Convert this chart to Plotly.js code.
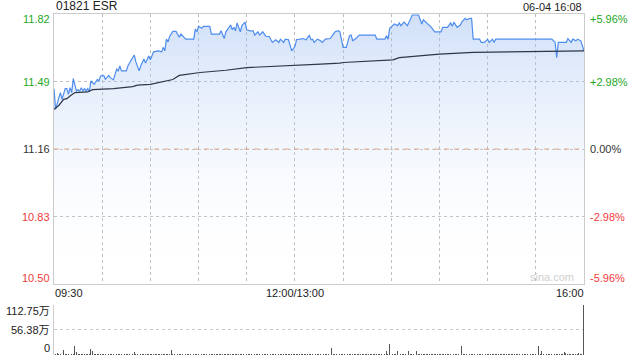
<!DOCTYPE html>
<html>
<head>
<meta charset="utf-8">
<script src="https://cdn.plot.ly/plotly-3.0.1.min.js"></script>
<style>html,body{margin:0;padding:0;background:#fff;}#chart{width:640px;height:360px;}</style>
</head>
<body>
<div id="chart"></div>
<script>
// ---- data ----
const chartTitle = "01821 ESR";
const stamp = "06-04 16:08";
const prevClose = 11.16;
const priceTicks = [11.82, 11.49, 11.16, 10.83, 10.50];
const priceTickText = ["11.82", "11.49", "11.16", "10.83", "10.50"];
const pctTickText = ["+5.96%", "+2.98%", "0.00%", "-2.98%", "-5.96%"];
const xTickTimes = ["09:30", "12:00", "16:00"];
const xTickText = ["09:30", "12:00/13:00", "16:00"];
const volTicks = [0, 56.38, 112.75];
const volTickText = ["0", "56.38万", "112.75万"];

const priceTimes = ["09:30","09:31","09:33","09:34","09:35","09:37","09:38","09:39","09:40","09:41","09:42","09:44","09:45","09:46","09:47","09:48","09:49","09:50","09:51","09:52","09:53","09:55","09:57","09:58","09:59","10:01","10:02","10:04","10:05","10:07","10:09","10:10","10:11","10:12","10:15","10:16","10:18","10:20","10:21","10:23","10:24","10:26","10:27","10:29","10:30","10:31","10:32","10:35","10:37","10:38","10:39","10:40","10:41","10:42","10:44","10:46","10:48","10:49","10:52","10:57","10:58","10:59","11:00","11:02","11:03","11:07","11:08","11:13","11:14","11:16","11:17","11:20","11:21","11:22","11:23","11:24","11:26","11:27","11:29","11:30","11:32","11:34","11:35","11:37","11:38","11:40","11:42","11:44","11:46","11:48","11:50","11:51","11:53","11:54","11:56","11:58","12:00","13:01","13:04","13:05","13:07","13:09","13:10","13:11","13:12","13:14","13:16","13:17","13:19","13:22","13:25","13:27","13:28","13:30","13:32","13:34","13:35","13:36","13:38","13:40","13:50","13:51","13:56","13:57","13:58","13:59","14:02","14:04","14:05","14:06","14:08","14:10","14:12","14:13","14:17","14:19","14:20","14:22","14:23","14:25","14:27","14:31","14:32","14:35","14:37","14:38","14:39","14:41","14:43","14:44","14:46","14:47","14:49","14:50","14:51","14:55","14:56","14:58","15:00","15:01","15:03","15:04","15:05","15:40","15:42","15:43","15:44","15:49","15:50","15:52","15:53","15:55","15:56","15:58","16:00"];
const prices = [11.455,11.354,11.41,11.436,11.403,11.455,11.455,11.427,11.46,11.436,11.504,11.444,11.45,11.444,11.46,11.444,11.455,11.444,11.455,11.44,11.493,11.476,11.50,11.493,11.517,11.52,11.50,11.52,11.509,11.498,11.55,11.542,11.566,11.542,11.542,11.566,11.594,11.619,11.586,11.542,11.566,11.60,11.58,11.615,11.596,11.619,11.635,11.64,11.635,11.657,11.64,11.697,11.684,11.71,11.735,11.735,11.706,11.722,11.697,11.697,11.746,11.733,11.76,11.75,11.76,11.76,11.722,11.722,11.738,11.70,11.733,11.766,11.743,11.755,11.738,11.776,11.733,11.763,11.78,11.743,11.738,11.738,11.717,11.733,11.717,11.733,11.71,11.71,11.681,11.694,11.681,11.697,11.681,11.697,11.694,11.64,11.661,11.694,11.697,11.70,11.694,11.717,11.694,11.697,11.681,11.697,11.689,11.681,11.697,11.70,11.733,11.738,11.733,11.657,11.657,11.714,11.717,11.689,11.70,11.717,11.717,11.697,11.697,11.714,11.697,11.75,11.771,11.763,11.776,11.763,11.78,11.763,11.795,11.815,11.815,11.771,11.792,11.776,11.771,11.755,11.733,11.733,11.755,11.755,11.776,11.76,11.78,11.755,11.766,11.782,11.799,11.792,11.799,11.799,11.697,11.697,11.681,11.681,11.697,11.681,11.697,11.681,11.697,11.697,11.681,11.607,11.681,11.681,11.70,11.681,11.697,11.689,11.697,11.689,11.64];

const avgTimes = ["09:30","09:33","09:36","09:38","09:40","09:43","09:51","09:54","10:07","10:19","10:22","10:30","10:44","10:48","11:01","11:17","11:30","11:46","13:16","13:28","13:30","14:01","14:05","14:30","14:51","16:00"];
const avgPrices = [11.354,11.373,11.403,11.406,11.419,11.436,11.439,11.45,11.455,11.465,11.472,11.476,11.50,11.52,11.534,11.545,11.558,11.563,11.575,11.58,11.583,11.596,11.607,11.624,11.632,11.64];

// volume per minute (万), 09:30 .. 16:00 (331 slots)
const volumes = [
 13,3,5,2,3,11,11,2,3,2,22,3,2,20,7,3,2,3,2,3,2,3,2,13,8,3,2,3,2,3,
 2,3,2,3,2,2,3,2,3,2,3,2,2,3,2,3,2,2,3,2,6,2,3,2,2,3,2,3,2,2,
 3,2,2,3,2,3,2,2,3,2,2,3,2,11,3,2,14,3,2,2,3,2,2,3,2,2,3,2,2,3,
 2,2,3,2,2,2,3,2,2,3,2,2,2,3,2,2,3,2,2,2,3,2,2,3,2,2,2,3,2,2,
 2,3,2,2,2,3,2,2,3,2,2,2,3,2,2,2,3,2,2,3,2,2,2,3,2,2,2,3,2,2,
 3,2,2,2,3,2,2,2,3,2,2,3,2,2,2,3,2,2,2,3,2,2,2,15,2,2,3,2,2,2,
 2,3,2,2,2,3,2,2,2,3,2,2,2,3,2,2,3,2,2,2,3,2,2,2,3,2,2,9,2,25,
 3,2,2,3,8,2,3,2,2,3,2,9,2,3,2,2,9,2,3,2,2,3,2,2,3,2,2,2,3,2,
 2,2,3,2,2,2,3,2,2,2,3,2,2,2,20,2,2,3,2,2,2,3,2,2,2,3,2,2,2,3,
 2,2,2,3,2,2,2,3,2,2,2,3,2,2,2,3,2,2,2,3,2,2,2,3,2,2,2,3,2,2,
 2,3,20,3,9,2,3,2,3,2,2,3,2,2,3,2,2,3,7,5,3,2,3,2,3,2,3,4,2,3,
 112.75
];

// ---- helpers ----
function tIdx(t) {
  const p = t.split(":").map(Number);
  const m = p[0] * 60 + p[1];
  if (m <= 720) return m - 570;
  return Math.min(150 + (m - 780), 330);
}
const FONT = "'Liberation Sans', Arial, 'Noto Sans CJK SC', sans-serif";
const GREEN = "#1fa71f", RED = "#f23b3b", DARK = "#333333";
const labelColors = [GREEN, GREEN, DARK, RED, RED];
const pctColors = [GREEN, GREEN, DARK, RED, RED];
const yMin = priceTicks[priceTicks.length - 1], yMax = priceTicks[0];
const xEnd = tIdx(xTickTimes[xTickTimes.length - 1]);
const gridVals = [];
for (let v = 0; v <= xEnd; v += 30) gridVals.push(v);

const traces = [
  {
    x: priceTimes.map(tIdx), y: prices, type: "scatter", mode: "lines",
    line: {color: "#4e8ded", width: 1.2},
    fill: "tozeroy",
    fillgradient: {type: "vertical", start: yMin, stop: yMax,
      colorscale: [[0, "rgba(255,255,255,0)"], [1, "rgba(150,185,240,0.45)"]]},
    xaxis: "x", yaxis: "y", hoverinfo: "skip"
  },
  {
    x: avgTimes.map(tIdx), y: avgPrices, type: "scatter", mode: "lines",
    line: {color: "#2e3748", width: 1.2},
    xaxis: "x", yaxis: "y", hoverinfo: "skip"
  },
  {
    x: volumes.map((v, i) => i), y: volumes, type: "bar",
    marker: {color: "#555555", line: {width: 0}}, width: 0.55,
    xaxis: "x2", yaxis: "y2", hoverinfo: "skip"
  }
];

const annotations = [];
annotations.push({xref: "paper", yref: "paper", x: 0, y: 1, xanchor: "left", yanchor: "bottom",
  text: chartTitle, showarrow: false, font: {family: FONT, size: 12, color: "#222"}, yshift: -1});
annotations.push({xref: "paper", yref: "paper", x: 1, y: 1, xanchor: "right", yanchor: "bottom",
  text: stamp, showarrow: false, font: {family: FONT, size: 11, color: "#222"}, yshift: -1});
priceTicks.forEach((v, i) => {
  let ys = 0;
  if (i === 0) ys = -5;
  if (i === priceTicks.length - 1) ys = 6;
  annotations.push({xref: "paper", yref: "y", x: 0, y: v, xanchor: "right", yanchor: "middle",
    xshift: -2, yshift: ys, text: priceTickText[i], showarrow: false,
    font: {family: FONT, size: 11, color: labelColors[i]}});
  annotations.push({xref: "paper", yref: "y", x: 1, y: v, xanchor: "left", yanchor: "middle",
    xshift: 4, yshift: ys, text: pctTickText[i], showarrow: false,
    font: {family: FONT, size: 11, color: pctColors[i]}});
});
const xAnch = ["left", "center", "right"];
xTickTimes.forEach((t, i) => {
  annotations.push({xref: "x", yref: "y", x: tIdx(t), y: yMin, xanchor: xAnch[i], yanchor: "top",
    yshift: -1, xshift: i === 0 ? -1 : (i === 2 ? 2 : 0), text: xTickText[i], showarrow: false,
    font: {family: FONT, size: 11, color: "#222"}});
});
volTicks.forEach((v, i) => {
  let ys = 0;
  if (i === 0) ys = 7;
  if (i === volTicks.length - 1) ys = -6;
  annotations.push({xref: "paper", yref: "y2", x: 0, y: v, xanchor: "right", yanchor: "middle",
    xshift: -2, yshift: ys, text: volTickText[i], showarrow: false,
    font: {family: FONT, size: 11, color: "#222"}});
});
annotations.push({xref: "paper", yref: "y", x: 0.985, y: yMin, xanchor: "right", yanchor: "bottom",
  yshift: -1, text: "sina.com", showarrow: false, font: {family: FONT, size: 11, color: "#cfcfcf"}});

const layout = {
  width: 640, height: 360,
  margin: {l: 54, r: 56, t: 14, b: 5, pad: 0},
  paper_bgcolor: "#ffffff", plot_bgcolor: "rgba(0,0,0,0)",
  showlegend: false,
  font: {family: FONT, size: 11, color: "#222"},
  xaxis: {domain: [0, 1], range: [0, xEnd], tickvals: gridVals, showticklabels: false,
    ticks: "", showgrid: true, gridcolor: "#bdbdbd", griddash: "dot", gridwidth: 1,
    showline: true, mirror: true, linecolor: "#cccccc", linewidth: 1, zeroline: false,
    anchor: "y", fixedrange: true},
  yaxis: {domain: [0.208, 1], range: [yMin, yMax], tickvals: priceTicks, showticklabels: false,
    ticks: "", showgrid: true, gridcolor: "#bdbdbd", griddash: "dot", gridwidth: 1,
    showline: true, mirror: true, linecolor: "#cccccc", linewidth: 1, zeroline: false,
    anchor: "x", fixedrange: true},
  xaxis2: {domain: [0, 1], range: [0, xEnd + 0.3], showticklabels: false, ticks: "",
    showgrid: false, showline: false, zeroline: false, anchor: "y2", fixedrange: true},
  yaxis2: {domain: [0, 0.1466], range: [0, volTicks[2]], tickvals: volTicks, showticklabels: false,
    ticks: "", showgrid: true, gridcolor: "#c8c8c8", griddash: "dot", gridwidth: 1,
    showline: true, linecolor: "#cccccc", linewidth: 1, zeroline: false, anchor: "x2", fixedrange: true},
  shapes: [
    {type: "line", xref: "x", yref: "y", x0: 0, x1: xEnd, y0: prevClose, y1: prevClose,
     line: {color: "#e3a68a", width: 1, dash: "5px,5px"}, layer: "above"}
  ],
  annotations: annotations,
  bargap: 0
};

Plotly.newPlot("chart", traces, layout, {staticPlot: true, displayModeBar: false});
</script>
</body>
</html>
